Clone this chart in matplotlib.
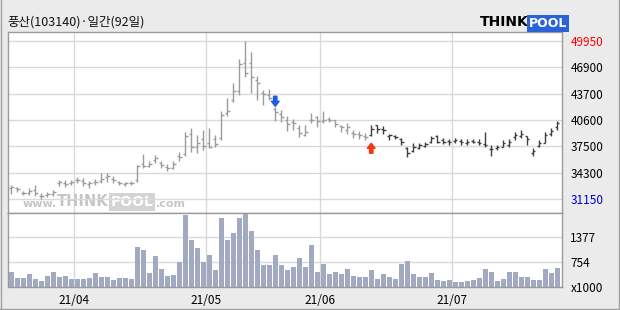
import numpy as np
import pandas as pd
import matplotlib
matplotlib.use("Agg")
import matplotlib.pyplot as plt
import matplotlib.transforms as mtransforms
from matplotlib.lines import Line2D

plt.rcParams['font.family'] = ['Noto Sans CJK KR', 'DejaVu Sans']

title = "풍산(103140)·일간(92일)"

# KRX trading days shown on the chart (market holidays removed)
holidays = ["2021-05-05", "2021-05-19"]
dates = pd.bdate_range("2021-03-17", "2021-07-26")
dates = dates[~dates.isin(pd.to_datetime(holidays))]

opens = [32550, 32450, 31950, 31900, 32250, 31550, 31650, 31750, 33050, 33050,
         33100, 33400, 33300, 32950, 33150, 33350, 33750, 33600, 33150, 33000,
         33050, 33400, 35400, 35150, 35800, 35450, 34950, 34900, 36250, 36550,
         38950, 37400, 38300, 37800, 38300, 38400, 41450, 43000, 44000, 47350,
         47400, 45300, 43800, 43600, 41850, 41300, 40600, 40400, 39600, 38750,
         40550, 40900, 40500, 40750, 40550, 39900, 39400, 39050, 38950, 38650,
         38750, 39950, 39500, 38700, 38650, 38300, 37200, 36900, 37300, 37500,
         38000, 38700, 38250, 38100, 38100, 38050, 37900, 38100, 38000, 37750,
         37150, 37250, 37400, 37600, 38600, 38700, 38700, 36700, 37550, 37900,
         38950, 39700]
highs = [32800, 32650, 32150, 32450, 32900, 31850, 32050, 32250, 33450, 33450,
         33500, 33850, 33650, 33350, 33550, 34300, 34250, 33900, 33350, 33250,
         33350, 35250, 36550, 35650, 36400, 35750, 35300, 35650, 36800, 39100,
         39600, 38800, 39400, 39600, 38850, 41600, 43150, 44950, 47900, 49950,
         48700, 45800, 44150, 44250, 42100, 41750, 41050, 40650, 40000, 40000,
         41400, 41050, 41650, 40900, 40600, 40000, 40200, 39400, 39300, 39000,
         40000, 40000, 39850, 38900, 38800, 38400, 37400, 37800, 37900, 38000,
         38700, 38800, 38400, 38300, 38500, 38300, 38300, 38350, 38300, 39100,
         37600, 37600, 38200, 38300, 39200, 39400, 38700, 37200, 38200, 39200,
         39600, 40500]
lows = [31800, 32050, 31650, 31650, 31550, 31150, 31450, 31550, 32700, 32650,
        32850, 33050, 32750, 32450, 32850, 33100, 33250, 33050, 32850, 32750,
        32850, 33250, 34850, 34950, 35450, 34850, 34550, 34700, 35750, 36300,
        36800, 36700, 37000, 37200, 37350, 38200, 41050, 42750, 43550, 45750,
        43850, 42950, 42350, 42950, 40500, 40400, 39300, 39450, 38600, 38700,
        40200, 39700, 40250, 40400, 39800, 39100, 38900, 38400, 38300, 38150,
        38650, 39000, 38900, 38200, 38300, 37600, 36200, 36800, 37100, 37400,
        37800, 37900, 37700, 37600, 37800, 37600, 37600, 37800, 37600, 37400,
        36300, 37000, 37350, 37350, 38200, 38400, 37600, 36300, 37350, 37800,
        38700, 39400]
closes = [32650, 32400, 31950, 32100, 31850, 31550, 31800, 32000, 33150, 33000,
          33200, 33500, 33050, 33050, 33250, 33600, 33900, 33450, 33100, 33050,
          33100, 35100, 35150, 35300, 36050, 35200, 34900, 35300, 36150, 38700,
          37400, 37800, 37500, 37400, 37700, 41150, 41650, 44000, 47300, 46200,
          45750, 44950, 43650, 43250, 41550, 40950, 40150, 40200, 39000, 39200,
          40550, 40500, 40600, 40600, 40150, 39700, 39800, 38900, 38800, 38550,
          39500, 39500, 39400, 38800, 38600, 38000, 36600, 37350, 37600, 37700,
          38500, 38000, 37950, 37950, 38150, 37950, 37950, 38000, 37800, 37600,
          37100, 37350, 37800, 38000, 38850, 38900, 38300, 36900, 37850, 38850,
          39300, 40200]
# volume in thousands of shares
volume = [521, 372, 372, 463, 338, 289, 413, 521, 397, 413,
          338, 330, 330, 372, 488, 397, 397, 314, 372, 355,
          338, 1145, 1061, 496, 912, 588, 413, 438, 762, 1934,
          1311, 1111, 762, 937, 563, 1859, 1311, 1485, 1859, 1959,
          1535, 1061, 688, 688, 937, 688, 563, 638, 862, 638,
          1186, 521, 712, 463, 513, 463, 588, 413, 388, 388,
          563, 338, 463, 388, 338, 712, 787, 463, 388, 388,
          488, 314, 289, 314, 264, 264, 289, 314, 363, 588,
          513, 289, 338, 513, 513, 388, 388, 314, 314, 588, 488, 613]

price_ticks = [31150, 34300, 37500, 40600, 43700, 46900, 49950]
volume_ticks = [131, 754, 1377]
volume_top = 2000
sell_signal = 44
buy_signal = 60

x = np.arange(len(dates))
month_start = np.flatnonzero(np.r_[False, dates.month[1:] != dates.month[:-1]])
month_labels = [d.strftime("%y/%m") for d in dates[month_start]]

fig = plt.figure(figsize=(6.2, 3.1), dpi=100, facecolor='#ebebeb')
ax = fig.add_axes([7.7 / 620, 1 - 212.5 / 310, 554.3 / 620, 180.8 / 310])
axv = fig.add_axes([7.7 / 620, 1 - 287.3 / 310, 554.3 / 620, 74.8 / 310], sharex=ax)

grid_c = '#d9d9d9'
for a in (ax, axv):
    a.set_facecolor('white')
    for s in a.spines.values():
        s.set_color('#9a9a9a')
        s.set_linewidth(1)
    for m in month_start:
        a.axvline(m - 0.5, color=grid_c, lw=1, zorder=0)
    a.yaxis.tick_right()
    a.tick_params(length=0, labelsize=8.5, pad=6)

ax.set_xlim(-0.6, len(dates) - 0.2)

# price panel: OHLC bars, grey until the buy signal, dark afterwards
cols = ['#9b9b9b' if i < buy_signal else '#3e3e3e' for i in x]
ax.vlines(x, lows, highs, colors=cols, lw=1, zorder=3)
ax.hlines(opens, x - 0.38, x, colors=cols, lw=1, zorder=3)
ax.hlines(closes, x, x + 0.38, colors=cols, lw=1, zorder=3)

ax.set_ylim(29580, 51090)
ax.set_yticks(price_ticks)
ax.set_yticklabels([str(v) for v in price_ticks])
ax.grid(axis='y', color=grid_c, lw=1, zorder=0)
ylab = ax.get_yticklabels()
ylab[-1].set_color('#ff0000')
ylab[0].set_color('#0000cc')
plt.setp(ax.get_xticklabels(), visible=False)

# signal arrows
off = lambda dy: mtransforms.offset_copy(ax.transData, fig=fig, x=0, y=dy, units='dots')
ax.annotate('', xy=(sell_signal, highs[sell_signal]), xycoords=off(1),
            xytext=(sell_signal, highs[sell_signal]), textcoords=off(11),
            arrowprops=dict(arrowstyle='simple,head_width=0.7,head_length=0.45,tail_width=0.3',
                            color='#1b5fe0', shrinkA=0, shrinkB=0, mutation_scale=8), zorder=5)
ax.annotate('', xy=(buy_signal, lows[buy_signal]), xycoords=off(-7),
            xytext=(buy_signal, lows[buy_signal]), textcoords=off(-17),
            arrowprops=dict(arrowstyle='simple,head_width=0.7,head_length=0.45,tail_width=0.3',
                            color='#f03a10', shrinkA=0, shrinkB=0, mutation_scale=8), zorder=5)

# watermark
wm = ax.text(0.027, 0.03, "www.", transform=ax.transAxes, fontsize=8, color='#c6c6c6',
             fontweight='bold', family='DejaVu Sans', zorder=1)
wm = ax.annotate("THINK", xy=(1, 0), xycoords=wm, va='bottom', fontsize=10.5, color='#c6c6c6',
                 fontweight='bold', family='DejaVu Sans', zorder=1)
wm = ax.annotate("POOL", xy=(1, 0), xycoords=wm, xytext=(1.5, 0), textcoords='offset points',
                 va='bottom', fontsize=10, color='white', fontweight='bold', family='DejaVu Sans',
                 bbox=dict(boxstyle='square,pad=0.12', fc='#d4d4d4', ec='none'), zorder=1)
ax.annotate(".com", xy=(1, 0), xycoords=wm, xytext=(1.5, 0), textcoords='offset points',
            va='bottom', fontsize=8, color='#c6c6c6', fontweight='bold', family='DejaVu Sans', zorder=1)

# volume panel
axv.bar(x, volume, width=0.82, color='#a2aac2', zorder=2)
axv.set_ylim(volume_ticks[0], volume_top)
axv.set_yticks(volume_ticks)
axv.set_yticklabels(['x1000'] + [str(v) for v in volume_ticks[1:]])
axv.grid(axis='y', color=grid_c, lw=1, zorder=0)
axv.set_xticks(month_start - 0.5)
axv.set_xticklabels(month_labels)
axv.tick_params(axis='x', pad=5)

# header: title and logo
fig.text(7 / 620, 1 - 22.5 / 310, title, va='center', ha='left', fontsize=9, color='#111111')
logo = fig.text(480 / 620, 1 - 21.5 / 310, "THINK", va='center', ha='left', fontsize=10,
                fontweight='bold', family='DejaVu Sans', color='black')
fig.text(0, 0, "POOL", transform=mtransforms.offset_copy(fig.transFigure, fig=fig, x=529, y=310 - 21.5 - 5.5, units='dots'),
         fontsize=9, fontweight='bold', family='DejaVu Sans', color='white',
         bbox=dict(boxstyle='square,pad=0.15', fc='#2a62d8', ec='none'))

# outer frame
for xs, ys in [([0.5, 0.5], [0, 310]), ([0, 620], [308.5, 308.5]), ([619, 619], [0, 310])]:
    fig.add_artist(Line2D([v / 620 for v in xs], [1 - v / 310 for v in ys], color='#a0a0a0', lw=1))

fig.savefig("out.png", dpi=100, facecolor=fig.get_facecolor())
